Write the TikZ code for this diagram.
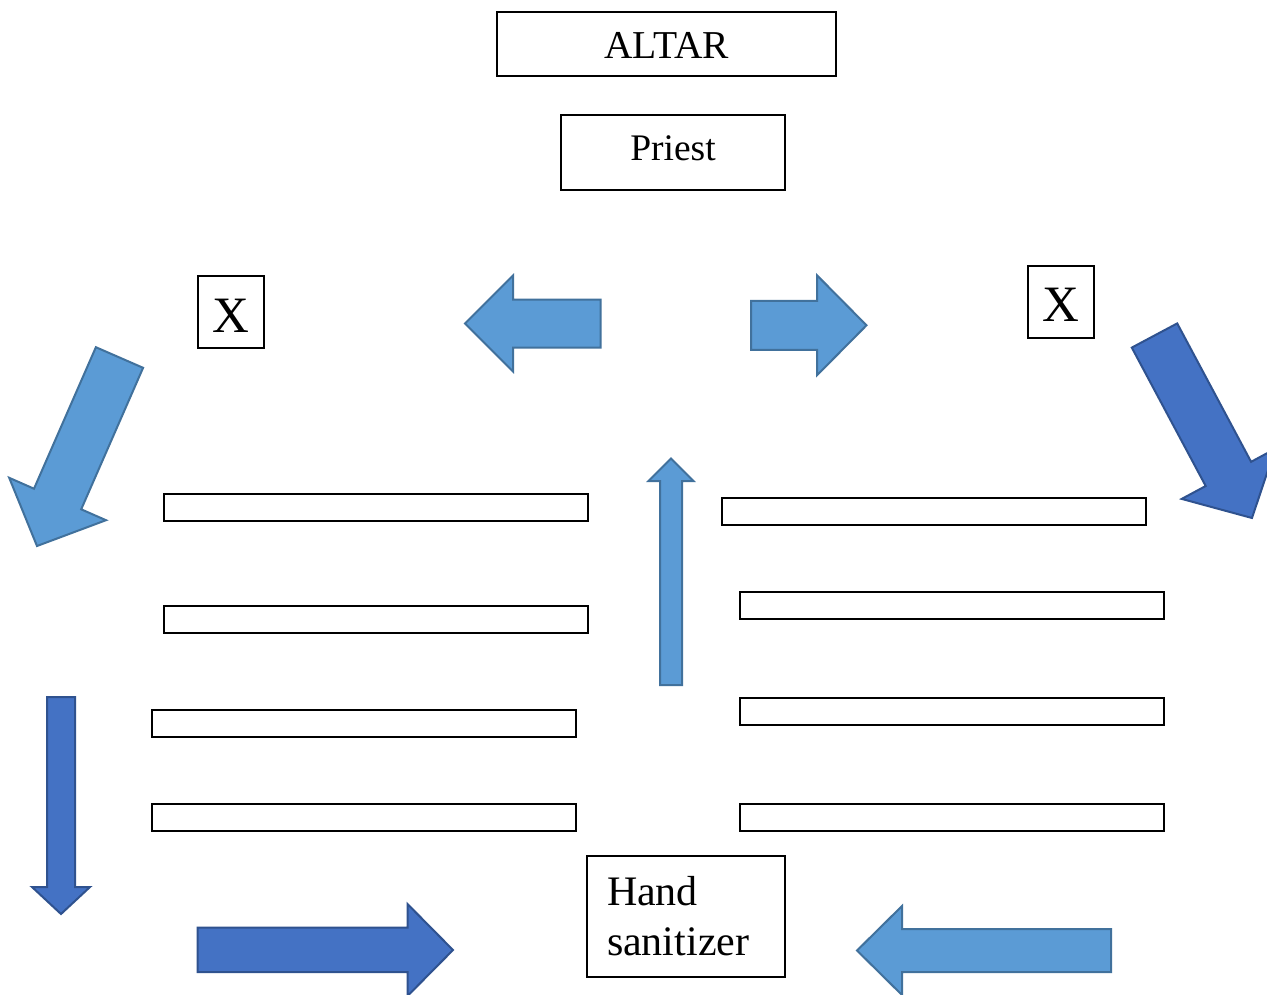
\documentclass[tikz,border=0pt]{standalone}
\usepackage{fontspec}
\setmainfont{Liberation Serif}
\usepackage{tikz}

\definecolor{arrowlight}{HTML}{5B9BD5}
\definecolor{arrowlightline}{HTML}{41719C}
\definecolor{arrowdark}{HTML}{4472C4}
\definecolor{arrowdarkline}{HTML}{2F528F}

\begin{document}
\begin{tikzpicture}[x=1pt,y=-1pt,
    box/.style={draw=black,line width=2pt,inner sep=0pt,fill=white},
    bench/.style={box,minimum width=424pt,minimum height=27pt},
    seatx/.style={box,minimum width=66pt,minimum height=72pt,font=\fontsize{51}{58}\selectfont,text depth=0pt},
    lightarrow/.style={fill=arrowlight,draw=arrowlightline,line width=2pt},
    darkarrow/.style={fill=arrowdark,draw=arrowdarkline,line width=2pt}]
      \path[use as bounding box,fill=white] (0,0) rectangle (1267,994);

      \node[box,minimum width=339pt,minimum height=64pt,font=\fontsize{39.5}{46}\selectfont,text height=28pt,text depth=0pt] (altar) at (666.5,44) {ALTAR};
      \node[box,minimum width=224pt,minimum height=75pt,font=\fontsize{37.5}{45}\selectfont,text height=22pt,text depth=7pt] (priest) at (673,152.5) {Priest};
      \node[seatx,text height=40pt] (xleft) at (231,312) {X};
      \node[seatx,text height=38pt] (xright) at (1061,302) {X};
      \node[box,text width=158pt,align=left,inner xsep=20pt,minimum height=121pt,font=\fontsize{42}{50}\selectfont] (sanitizer) at (686,916.5) {Hand\\sanitizer};

      \node[bench] (left1) at (376,507.5) {};
      \node[bench] (left2) at (376,619.5) {};
      \node[bench] (left3) at (364,723.5) {};
      \node[bench] (left4) at (364,817) {};
      \node[bench] (right1) at (934,511.5) {};
      \node[bench] (right2) at (952,605.5) {};
      \node[bench] (right3) at (952,711.5) {};
      \node[bench] (right4) at (952,817) {};

      \draw[lightarrow] (465,323.5) -- (513,275.5) -- (513,299.5) -- (600.5,299.5) -- (600.5,347.5) -- (513,347.5) -- (513,371.5) -- cycle;
      \draw[lightarrow] (751,300.8) -- (817,300.8) -- (817,275.3) -- (866.5,325.3) -- (817,375.3) -- (817,349.8) -- (751,349.8) -- cycle;
      \draw[lightarrow] (671,458.5) -- (693.5,481) -- (682,481) -- (682,685) -- (660,685) -- (660,481) -- (648.5,481) -- cycle;
      \draw[lightarrow] (95.9,347.2) -- (143.1,367.8) -- (81.2,509.3) -- (106.0,520.2) -- (37,546) -- (9.2,477.8) -- (34.0,488.7) -- cycle;
      \draw[lightarrow] (857,950.5) -- (902,906) -- (902,929) -- (1111,929) -- (1111,972) -- (902,972) -- (902,995) -- cycle;

      \draw[darkarrow] (1131.8,347.6) -- (1177.2,323.4) -- (1251.1,461.8) -- (1275.1,448.9) -- (1252,518) -- (1181.7,498.9) -- (1205.7,486.0) -- cycle;
      \draw[darkarrow] (61,914) -- (90,887) -- (75,887) -- (75,697) -- (47,697) -- (47,887) -- (32,887) -- cycle;
      \draw[darkarrow] (197.5,927.5) -- (407.5,927.5) -- (407.5,904) -- (453,950) -- (407.5,996) -- (407.5,972) -- (197.5,972) -- cycle;
    \end{tikzpicture}
\end{document}
